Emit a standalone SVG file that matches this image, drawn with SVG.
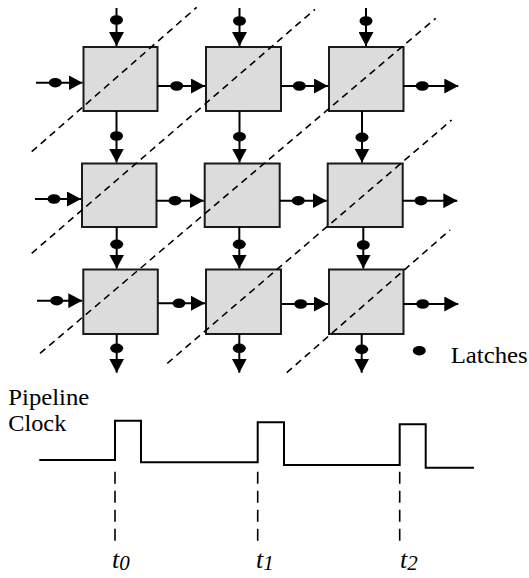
<svg xmlns="http://www.w3.org/2000/svg" xmlns:xlink="http://www.w3.org/1999/xlink" width="529" height="578" viewBox="0 0 529 578">
<style>
.box{fill:#dcdcdc;stroke:#1a1a1a;stroke-width:2}
.wire{stroke:#000;stroke-width:2;fill:none;marker-end:url(#arr)}
.diag{stroke:#000;stroke-width:1.6;stroke-dasharray:7,5;fill:none}
.vdash{stroke:#000;stroke-width:1.6;stroke-dasharray:12,7;fill:none}
.clk{stroke:#000;stroke-width:2;fill:none}
.lbl{font-size:23px;fill:#000}
.ti{font-style:italic;font-size:26px;fill:#000}
.sub{font-size:21px}
</style>
<defs>
<marker id="arr" markerUnits="userSpaceOnUse" markerWidth="14" markerHeight="15" refX="14" refY="7.5" orient="auto" viewBox="0 0 14 15">
<path d="M0,0 L14,7.5 L0,15 Z" fill="#000"/>
</marker>
<ellipse id="latch" cx="0" cy="0" rx="6.5" ry="4.8" fill="#000"/>
</defs>

<g id="r1c1"><rect class="box" x="83.5" y="47" width="74" height="64"/></g>
<g id="r1c2"><rect class="box" x="206" y="47" width="75" height="64"/></g>
<g id="r1c3"><rect class="box" x="329" y="47" width="74.5" height="64"/></g>
<g id="r2c1"><rect class="box" x="82" y="163.5" width="74.5" height="63.5"/></g>
<g id="r2c2"><rect class="box" x="204.7" y="163.5" width="75" height="63.5"/></g>
<g id="r2c3"><rect class="box" x="327.7" y="163.5" width="75" height="63.5"/></g>
<g id="r3c1"><rect class="box" x="83.3" y="269.5" width="74.5" height="64.5"/></g>
<g id="r3c2"><rect class="box" x="206" y="269.5" width="75" height="64.5"/></g>
<g id="r3c3"><rect class="box" x="329" y="269.5" width="74.5" height="64.5"/></g>

<g id="diagonals">
<line class="diag" x1="31.7" y1="151.7" x2="196.7" y2="7.3"/>
<line class="diag" x1="31.7" y1="253.3" x2="315" y2="9.3"/>
<line class="diag" x1="40" y1="353.3" x2="435.7" y2="18.3"/>
<line class="diag" x1="167.3" y1="363.3" x2="451.7" y2="120"/>
<line class="diag" x1="286.7" y1="372.7" x2="450" y2="230"/>
</g>

<g id="connectors">
<line class="wire" x1="116.5" y1="8" x2="116.5" y2="46"/>
<line class="wire" x1="239.5" y1="8" x2="239.5" y2="46"/>
<line class="wire" x1="366" y1="8" x2="366" y2="46"/>
<line class="wire" x1="116.5" y1="111" x2="116.5" y2="162.5"/>
<line class="wire" x1="239.5" y1="111" x2="239.5" y2="162.5"/>
<line class="wire" x1="362" y1="111" x2="362" y2="162.5"/>
<line class="wire" x1="116.7" y1="227" x2="116.7" y2="268.5"/>
<line class="wire" x1="239.3" y1="227" x2="239.3" y2="268.5"/>
<line class="wire" x1="363.3" y1="227" x2="363.3" y2="268.5"/>
<line class="wire" x1="116.7" y1="334" x2="116.7" y2="372.7"/>
<line class="wire" x1="239.3" y1="334" x2="239.3" y2="372.7"/>
<line class="wire" x1="361.7" y1="334" x2="361.7" y2="372.7"/>
<line class="wire" x1="36" y1="82.7" x2="82.5" y2="82.7"/>
<line class="wire" x1="157.5" y1="86" x2="205" y2="86"/>
<line class="wire" x1="281" y1="86" x2="328" y2="86"/>
<line class="wire" x1="403.5" y1="86" x2="458.3" y2="86"/>
<line class="wire" x1="35" y1="199" x2="81" y2="199"/>
<line class="wire" x1="156.5" y1="200.7" x2="203.7" y2="200.7"/>
<line class="wire" x1="279.7" y1="200.7" x2="326.7" y2="200.7"/>
<line class="wire" x1="402.7" y1="200.7" x2="457.3" y2="200.7"/>
<line class="wire" x1="37" y1="300.7" x2="82.3" y2="300.7"/>
<line class="wire" x1="157.8" y1="303.3" x2="205" y2="303.3"/>
<line class="wire" x1="281" y1="304" x2="328" y2="304"/>
<line class="wire" x1="403.5" y1="304" x2="458.3" y2="304"/>
</g>

<g id="latches">
<use xlink:href="#latch" x="116.5" y="20"/>
<use xlink:href="#latch" x="239.5" y="21"/>
<use xlink:href="#latch" x="366" y="21"/>
<use xlink:href="#latch" x="116.5" y="136"/>
<use xlink:href="#latch" x="239.5" y="136.7"/>
<use xlink:href="#latch" x="362" y="137.3"/>
<use xlink:href="#latch" x="116.7" y="244.3"/>
<use xlink:href="#latch" x="239.3" y="244.3"/>
<use xlink:href="#latch" x="363.3" y="245"/>
<use xlink:href="#latch" x="116.7" y="348.3"/>
<use xlink:href="#latch" x="239.3" y="348.3"/>
<use xlink:href="#latch" x="361.7" y="349.3"/>
<use xlink:href="#latch" x="55.3" y="82.7"/>
<use xlink:href="#latch" x="176.7" y="86"/>
<use xlink:href="#latch" x="299.3" y="86"/>
<use xlink:href="#latch" x="422.3" y="86"/>
<use xlink:href="#latch" x="54" y="199"/>
<use xlink:href="#latch" x="175" y="200.7"/>
<use xlink:href="#latch" x="298.3" y="200.7"/>
<use xlink:href="#latch" x="421" y="200.7"/>
<use xlink:href="#latch" x="56.7" y="300.7"/>
<use xlink:href="#latch" x="179" y="303.3"/>
<use xlink:href="#latch" x="300.7" y="304"/>
<use xlink:href="#latch" x="422.7" y="304"/>
</g>

<g id="legend">
<use xlink:href="#latch" x="419.3" y="350.7"/>
<text class="lbl" font-family="'Liberation Serif', 'Times New Roman', serif" x="450.7" y="363.3" textLength="77" lengthAdjust="spacingAndGlyphs">Latches</text>
</g>

<g id="clock">
<text class="lbl" font-family="'Liberation Serif', 'Times New Roman', serif" x="8.3" y="405" textLength="81" lengthAdjust="spacingAndGlyphs">Pipeline</text>
<text class="lbl" font-family="'Liberation Serif', 'Times New Roman', serif" x="8.3" y="431" textLength="58" lengthAdjust="spacingAndGlyphs">Clock</text>
<polyline class="clk" points="39.3,460 115,460 115,420.7 141,420.7 141,462.3 257.7,462.3 257.7,422.3 284,422.3 284,465 399.7,465 399.7,424.3 425.7,424.3 425.7,467.7 474,467.7"/>
<line class="vdash" x1="115" y1="471.7" x2="115" y2="542"/>
<line class="vdash" x1="257.7" y1="471.7" x2="257.7" y2="542"/>
<line class="vdash" x1="399.7" y1="471.7" x2="399.7" y2="542"/>
<text class="ti" font-family="'Liberation Serif', 'Times New Roman', serif" x="112" y="568">t<tspan class="sub" dy="2">0</tspan></text>
<text class="ti" font-family="'Liberation Serif', 'Times New Roman', serif" x="256" y="568">t<tspan class="sub" dy="2">1</tspan></text>
<text class="ti" font-family="'Liberation Serif', 'Times New Roman', serif" x="400" y="568">t<tspan class="sub" dy="2">2</tspan></text>
</g>
</svg>
